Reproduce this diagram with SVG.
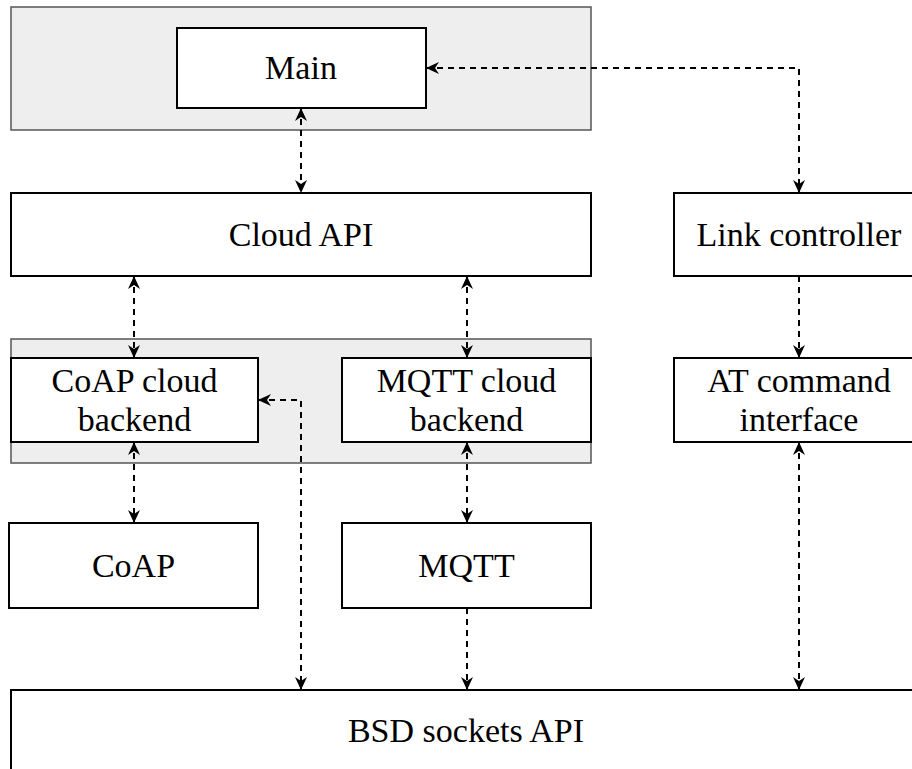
<svg xmlns="http://www.w3.org/2000/svg" width="912" height="769" viewBox="0 0 912 769">
<defs>
<style>
.grp{fill:#eeeeee;stroke:#555555;stroke-width:1.5}
.box{fill:#ffffff;stroke:#000000;stroke-width:2}
.lbl{font-family:"Liberation Serif","Times New Roman",serif;font-size:34px;fill:#000000;text-anchor:middle}
.con{fill:none;stroke:#000000;stroke-width:2;stroke-dasharray:6 5;marker-end:url(#arr)}
.both{marker-start:url(#arr)}
</style>
<marker id="arr" viewBox="0 0 13 12" refX="13" refY="6" markerWidth="13" markerHeight="12" markerUnits="userSpaceOnUse" orient="auto-start-reverse">
<path d="M0,0 L13,6 L0,12 L4,6 Z" fill="#000000"/>
</marker>
</defs>
<rect width="912" height="769" fill="#ffffff"/>
<g id="group-main"><rect class="grp" x="11" y="7" width="580" height="123"/></g>
<g id="group-backends"><rect class="grp" x="11" y="339" width="580" height="124"/></g>
<g id="main"><rect class="box" x="177" y="28" width="249" height="80"/><text class="lbl" x="301" y="79">Main</text></g>
<g id="cloud-api"><rect class="box" x="11" y="193" width="580" height="83"/><text class="lbl" x="301" y="246">Cloud API</text></g>
<g id="link-controller"><rect class="box" x="674" y="193" width="250" height="83"/><text class="lbl" x="799" y="246">Link controller</text></g>
<g id="coap-backend"><rect class="box" x="11" y="358" width="247" height="84"/><text class="lbl" x="134.5" y="392">CoAP cloud</text><text class="lbl" x="134.5" y="431">backend</text></g>
<g id="mqtt-backend"><rect class="box" x="342" y="358" width="249" height="84"/><text class="lbl" x="466.5" y="392">MQTT cloud</text><text class="lbl" x="466.5" y="431">backend</text></g>
<g id="at-interface"><rect class="box" x="674" y="358" width="250" height="84"/><text class="lbl" x="799" y="392">AT command</text><text class="lbl" x="799" y="431">interface</text></g>
<g id="coap"><rect class="box" x="9" y="523" width="249" height="85"/><text class="lbl" x="133.5" y="577">CoAP</text></g>
<g id="mqtt"><rect class="box" x="342" y="523" width="249" height="85"/><text class="lbl" x="466.5" y="577">MQTT</text></g>
<g id="bsd"><rect class="box" x="11" y="690" width="920" height="120"/><text class="lbl" x="466" y="742">BSD sockets API</text></g>
<g id="connectors">
<path class="con both" d="M301,108 V193"/>
<path class="con both" d="M426,68 H799 V193"/>
<path class="con both" d="M134,276 V358"/>
<path class="con both" d="M467,276 V358"/>
<path class="con" d="M799,276 V358"/>
<path class="con both" d="M134,442 V523"/>
<path class="con both" d="M467,442 V523"/>
<path class="con both" d="M258,400 H301 V690"/>
<path class="con" d="M467,608 V690"/>
<path class="con both" d="M799,442 V690"/>
</g>
</svg>
